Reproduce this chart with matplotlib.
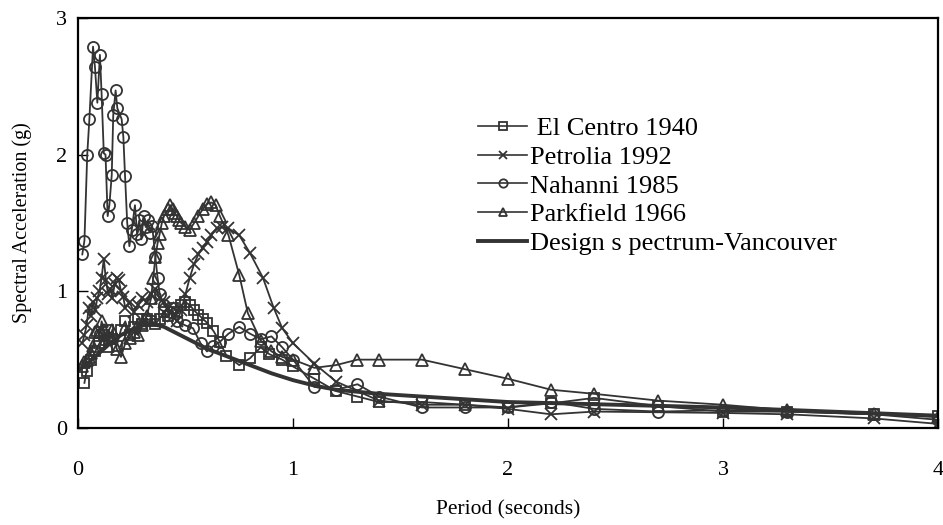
import numpy as np
import matplotlib
matplotlib.use("Agg")
import matplotlib.pyplot as plt

plt.rcParams['font.family'] = ['Liberation Serif', 'DejaVu Serif']

# periods (s) and spectral accelerations (g) for each record
el_centro_t = [0.03, 0.04, 0.06, 0.08, 0.10, 0.12, 0.14, 0.16, 0.18, 0.20, 0.22, 0.24, 0.26, 0.28,
               0.30, 0.32, 0.34, 0.36, 0.38, 0.40, 0.42, 0.44, 0.46, 0.48, 0.50, 0.52, 0.54, 0.56,
               0.58, 0.60, 0.63, 0.66, 0.69, 0.75, 0.80, 0.85, 0.89, 0.95, 1.00, 1.10, 1.20, 1.30,
               1.40, 1.60, 1.80, 2.00, 2.20, 2.40, 2.70, 3.00, 3.30, 3.70, 4.00]
el_centro_sa = [0.33, 0.42, 0.50, 0.56, 0.62, 0.68, 0.72, 0.65, 0.60, 0.72, 0.78, 0.68, 0.74, 0.80,
                0.76, 0.80, 0.78, 0.76, 0.80, 0.85, 0.82, 0.88, 0.85, 0.90, 0.92, 0.90, 0.86, 0.83,
                0.80, 0.77, 0.71, 0.63, 0.53, 0.46, 0.51, 0.59, 0.54, 0.50, 0.45, 0.36, 0.27, 0.23,
                0.19, 0.19, 0.17, 0.15, 0.18, 0.22, 0.16, 0.12, 0.12, 0.10, 0.09]

petrolia_t = [0.02, 0.03, 0.04, 0.05, 0.06, 0.07, 0.08, 0.09, 0.10, 0.11, 0.12, 0.13, 0.14, 0.15,
              0.16, 0.17, 0.18, 0.19, 0.20, 0.21, 0.22, 0.24, 0.26, 0.28, 0.30, 0.32, 0.34, 0.36,
              0.38, 0.40, 0.42, 0.44, 0.46, 0.48, 0.50, 0.52, 0.54, 0.56, 0.58, 0.60, 0.62, 0.645,
              0.67, 0.70, 0.75, 0.80, 0.86, 0.91, 0.95, 1.00, 1.10, 1.20, 1.40, 1.60, 1.80, 2.00,
              2.20, 2.40, 3.00, 3.30, 3.70, 4.00]
petrolia_sa = [0.62, 0.68, 0.75, 0.88, 0.82, 0.92, 0.86, 0.95, 1.00, 1.10, 1.24, 1.08, 0.98, 1.02,
               0.95, 1.05, 1.10, 1.08, 1.00, 0.96, 0.88, 0.92, 0.85, 0.90, 0.95, 0.92, 0.98, 1.02,
               0.95, 0.92, 0.88, 0.82, 0.78, 0.86, 0.98, 1.10, 1.20, 1.27, 1.32, 1.36, 1.41, 1.46,
               1.47, 1.46, 1.41, 1.28, 1.10, 0.88, 0.73, 0.62, 0.47, 0.34, 0.20, 0.17, 0.17, 0.14,
               0.10, 0.12, 0.11, 0.10, 0.07, 0.03]

nahanni_t = [0.02, 0.03, 0.043, 0.053, 0.07, 0.079, 0.09, 0.102, 0.11, 0.12, 0.128, 0.138, 0.146,
             0.157, 0.164, 0.175, 0.183, 0.203, 0.211, 0.219, 0.229, 0.239, 0.25, 0.265, 0.275,
             0.285, 0.295, 0.305, 0.315, 0.325, 0.335, 0.345, 0.36, 0.37, 0.38, 0.40, 0.43, 0.46,
             0.50, 0.535, 0.57, 0.60, 0.63, 0.66, 0.70, 0.75, 0.80, 0.85, 0.90, 0.95, 1.00, 1.10,
             1.20, 1.30, 1.40, 1.60, 1.80, 2.00, 2.20, 2.40, 2.70, 3.00, 3.30, 3.70, 4.00]
nahanni_sa = [1.27, 1.37, 2.00, 2.26, 2.79, 2.64, 2.38, 2.73, 2.44, 2.01, 2.00, 1.55, 1.63,
              1.85, 2.29, 2.47, 2.34, 2.26, 2.13, 1.84, 1.50, 1.33, 1.45, 1.63, 1.42,
              1.52, 1.38, 1.55, 1.47, 1.52, 1.43, 1.48, 1.25, 1.10, 0.98, 0.90, 0.85, 0.78,
              0.75, 0.73, 0.62, 0.56, 0.60, 0.63, 0.69, 0.74, 0.69, 0.65, 0.67, 0.59, 0.50, 0.30,
              0.28, 0.32, 0.23, 0.15, 0.15, 0.15, 0.19, 0.14, 0.12, 0.13, 0.12, 0.10, 0.06]

parkfield_t = [0.02, 0.03, 0.04, 0.05, 0.06, 0.07, 0.08, 0.09, 0.10, 0.11, 0.12, 0.13, 0.14, 0.15,
               0.16, 0.18, 0.20, 0.22, 0.24, 0.26, 0.28, 0.30, 0.32, 0.34, 0.35, 0.36, 0.37, 0.38,
               0.39, 0.40, 0.42, 0.43, 0.44, 0.45, 0.46, 0.47, 0.48, 0.50, 0.52, 0.54, 0.56, 0.58,
               0.60, 0.62, 0.64, 0.66, 0.70, 0.75, 0.79, 0.85, 0.90, 0.95, 1.00, 1.10, 1.20, 1.30,
               1.40, 1.60, 1.80, 2.00, 2.20, 2.40, 2.70, 3.00, 3.30, 3.70, 4.00]
parkfield_sa = [0.45, 0.48, 0.50, 0.52, 0.55, 0.60, 0.70, 0.72, 0.68, 0.78, 0.72, 0.65, 0.60, 0.66,
                0.72, 0.58, 0.52, 0.62, 0.66, 0.70, 0.68, 0.75, 0.82, 0.95, 1.10, 1.25, 1.35, 1.42,
                1.50, 1.55, 1.60, 1.63, 1.60, 1.57, 1.55, 1.52, 1.50, 1.47, 1.45, 1.50, 1.55, 1.60,
                1.64, 1.65, 1.63, 1.55, 1.41, 1.12, 0.84, 0.64, 0.56, 0.52, 0.50, 0.44, 0.46, 0.50,
                0.50, 0.50, 0.43, 0.36, 0.28, 0.25, 0.20, 0.17, 0.13, 0.10, 0.08]

design_t = [0.0, 0.05, 0.10, 0.15, 0.20, 0.25, 0.30, 0.35, 0.40, 0.50, 0.60, 0.70, 0.80, 0.90,
            1.00, 1.10, 1.20, 1.40, 1.60, 1.80, 2.00, 2.50, 3.00, 3.50, 4.00]
design_sa = [0.42, 0.48, 0.55, 0.62, 0.68, 0.72, 0.75, 0.76, 0.74, 0.66, 0.58, 0.52, 0.46, 0.40,
             0.35, 0.31, 0.28, 0.25, 0.23, 0.21, 0.19, 0.17, 0.15, 0.12, 0.09]

ink = '#333333'

fig = plt.figure(figsize=(9.43, 5.25), dpi=100)
ax = fig.add_axes([0.0827, 0.1848, 0.912, 0.781])

common = dict(color=ink, lw=1.3, mfc='none', mec=ink, mew=1.3)
ax.plot(el_centro_t, el_centro_sa, marker='s', ms=7.5, label=' El Centro 1940', **common)
ax.plot(petrolia_t, petrolia_sa, marker='x', ms=9, label='Petrolia 1992', **common)
ax.plot(nahanni_t, nahanni_sa, marker='o', ms=8, label='Nahanni 1985', **common)
ax.plot(parkfield_t, parkfield_sa, marker='^', ms=8.5, label='Parkfield 1966', **common)
ax.plot(design_t, design_sa, color=ink, lw=2.8, label='Design s pectrum-Vancouver')

ax.set_xlim(0, 4)
ax.set_ylim(0, 3)
ax.set_xticks([0, 1, 2, 3, 4])
ax.set_yticks([0, 1, 2, 3])
ax.tick_params(axis='x', direction='in', length=7, width=1, pad=24, labelsize=16)
ax.tick_params(axis='y', direction='in', length=7, width=1, pad=8, labelsize=16)
for s in ax.spines.values():
    s.set_linewidth(1.6)
    s.set_color('black')

ax.set_xlabel('Period (seconds)', fontsize=15.5, labelpad=14)
ax.set_ylabel('Spectral Acceleration (g)', fontsize=14.5, labelpad=17)

leg = ax.legend(loc='upper left', bbox_to_anchor=(0.453, 0.785), frameon=False, fontsize=19,
                handlelength=1.85, handletextpad=0.1, labelspacing=0.2, borderaxespad=0)
for h in leg.legend_handles[:4]:
    h.set_markersize(6)
    h.set_linewidth(1.2)

fig.savefig('out.png', dpi=100)
